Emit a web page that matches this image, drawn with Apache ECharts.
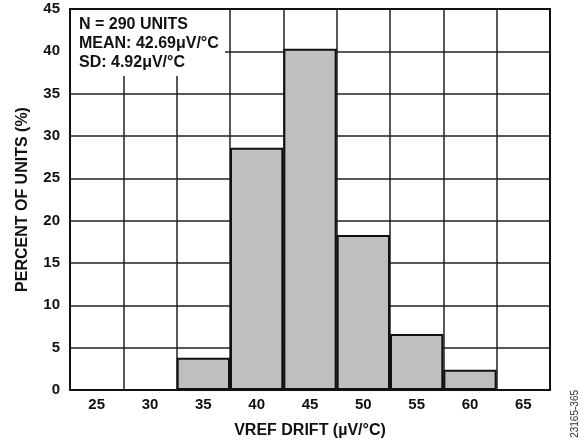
<!DOCTYPE html>
<html><head><meta charset="utf-8">
<script src="https://cdn.jsdelivr.net/npm/echarts@6/dist/echarts.min.js"></script>
<style>html,body{margin:0;padding:0;background:#fff}#c{width:587px;height:444px}</style>
</head><body><div id="c"></div>
<script>
const categories = ["25","30","35","40","45","50","55","60","65"];
const percentUnits = [null, null, 3.8, 28.6, 40.3, 18.3, 6.6, 2.4, null];
const yTicks = [0,5,10,15,20,25,30,35,40,45];
const noteLines = ["N = 290 UNITS", "MEAN: 42.69μV/°C", "SD: 4.92μV/°C"];

const FONT = 'Arial, "Liberation Sans", sans-serif';
const chart = echarts.init(document.getElementById('c'), null, {renderer:'canvas'});
chart.setOption({
  animation:false,
  backgroundColor:'#fff',
  grid:{left:70, top:9, right:37, bottom:52, show:true, borderColor:'#111', borderWidth:2, backgroundColor:'transparent', z:5},
  xAxis:{
    type:'category', data:categories,
    name:'VREF DRIFT (µV/°C)', nameLocation:'middle', nameGap:33,
    nameTextStyle:{fontFamily:FONT, fontWeight:'bold', fontSize:16, color:'#111'},
    axisLine:{show:false}, axisTick:{show:false},
    axisLabel:{fontFamily:FONT, fontWeight:'bold', fontSize:15, color:'#111', margin:7},
    splitLine:{show:true, lineStyle:{color:'#222', width:1.5}}
  },
  yAxis:{
    type:'value', min:yTicks[0], max:yTicks[yTicks.length-1], interval:5,
    name:'PERCENT OF UNITS (%)', nameLocation:'middle', nameGap:39, nameRotate:90,
    nameTextStyle:{fontFamily:FONT, fontWeight:'bold', fontSize:16, color:'#111'},
    axisLine:{show:false}, axisTick:{show:false},
    axisLabel:{fontFamily:FONT, fontWeight:'bold', fontSize:15, color:'#111', margin:10},
    splitLine:{show:true, lineStyle:{color:'#222', width:1.5}}
  },
  series:[{
    type:'bar', data:percentUnits, barCategoryGap:'0%', barWidth:'100%',
    itemStyle:{color:'#bebfc1', borderColor:'#111', borderWidth:2},
    z:3
  }],
  graphic:[
    {type:'rect', left:71, top:10, shape:{width:154, height:66}, style:{fill:'#fff'}, z:10},
    {type:'text', left:79, top:15, z:11,
     style:{text:noteLines.join('\n'), font:'bold 16px ' + FONT, fill:'#111', lineHeight:19}},
    {type:'text', left:570, top:390, rotation:Math.PI/2, z:11,
     style:{text:'23165-365', font:'10px ' + FONT, fill:'#333'}}
  ]
});
</script></body></html>
